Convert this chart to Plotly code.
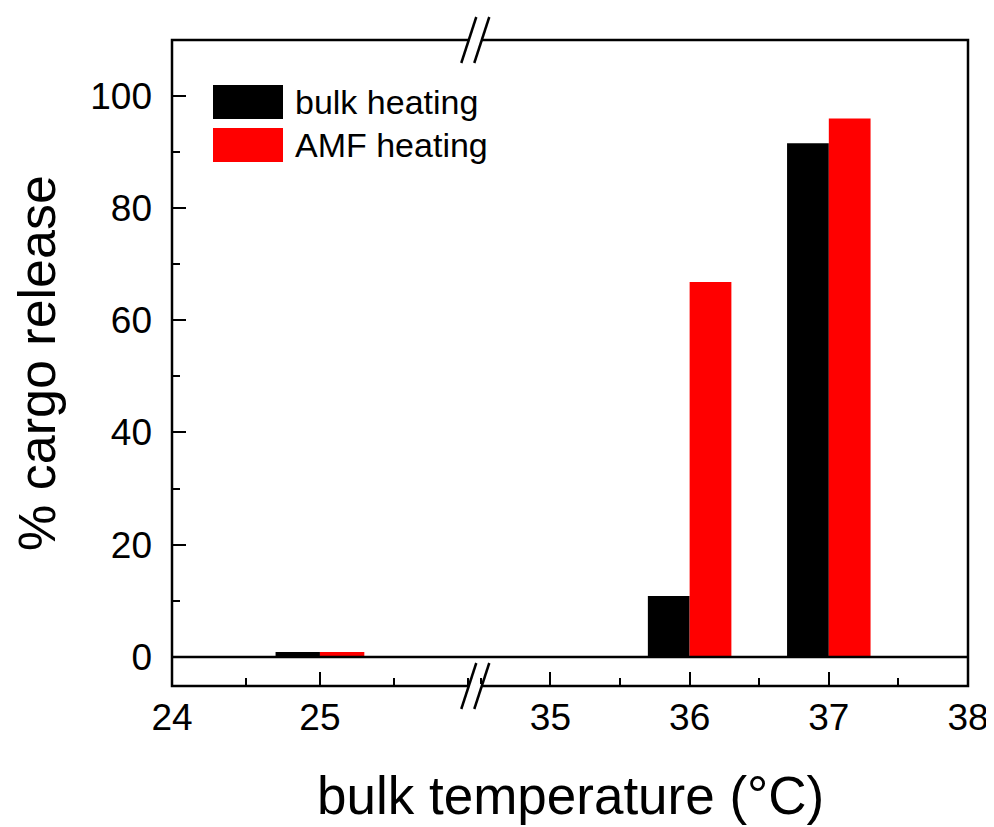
import plotly.graph_objects as go

# Data
temps = [25, 36, 37]
bulk_heating = [0.9, 10.9, 91.5]
amf_heating = [0.9, 66.8, 95.9]
series_names = ["bulk heating", "AMF heating"]
series_colors = ["#000000", "#ff0000"]
left_ticks = [24, 25]
right_ticks = [35, 36, 37, 38]
y_ticks = [0, 20, 40, 60, 80, 100]

FONT = "Arial, Liberation Sans, sans-serif"
BREAK = 0.381
BAR_W = 0.3

fig = go.Figure()

left_idx = [i for i, t in enumerate(temps) if t < 30]
right_idx = [i for i, t in enumerate(temps) if t >= 30]

for vals, name, color, off in [(bulk_heating, series_names[0], series_colors[0], -BAR_W),
                               (amf_heating, series_names[1], series_colors[1], 0.0)]:
    for idx, xa in [(left_idx, "x"), (right_idx, "x2")]:
        fig.add_trace(go.Bar(
            x=[temps[i] for i in idx], y=[vals[i] for i in idx],
            width=BAR_W, offset=off, xaxis=xa, yaxis="y",
            marker=dict(color=color, line=dict(width=0)),
            name=name, showlegend=False,
        ))

common_x = dict(
    ticks="inside", ticklen=14, tickwidth=2, tickcolor="black",
    showgrid=False, zeroline=False, showline=False,
    tickfont=dict(family=FONT, size=37, color="black"),
    minor=dict(ticks="inside", ticklen=8, tickwidth=2, tickcolor="black", dtick=0.5),
    ticklabelstandoff=6,
)

fig.update_layout(
    width=994, height=827,
    margin=dict(l=164, r=34, t=32, b=149),
    paper_bgcolor="white", plot_bgcolor="white",
    barmode="overlay",
    xaxis=dict(domain=[0, BREAK], range=[24, 26.05], tickmode="array",
               tickvals=left_ticks, ticktext=[str(t) for t in left_ticks],
               anchor="y", **common_x),
    xaxis2=dict(domain=[BREAK, 1], range=[34.46, 38], tickmode="array",
                tickvals=right_ticks, ticktext=[str(t) for t in right_ticks],
                anchor="y", **common_x),
    yaxis=dict(
        range=[-5.15, 109.9], tickmode="array", tickvals=y_ticks,
        ticks="inside", ticklen=14, tickwidth=2, tickcolor="black",
        minor=dict(ticks="inside", ticklen=8, tickwidth=2, tickcolor="black", dtick=10),
        showgrid=False, zeroline=False, showline=False,
        tickfont=dict(family=FONT, size=37, color="black"),
        ticklabelstandoff=19,
        title=dict(text="% cargo release", font=dict(family=FONT, size=52, color="black"),
                   standoff=22),
    ),
)

# x title
fig.add_annotation(text="bulk temperature (°C)", xref="paper", yref="paper",
                   x=0.5, y=-0.170, xanchor="center", yanchor="middle", showarrow=False,
                   font=dict(family=FONT, size=53, color="black"))

# frame
fig.add_shape(type="rect", xref="paper", yref="paper", x0=0, x1=1, y0=0, y1=1,
              line=dict(color="black", width=2.5), layer="above")
# zero line
fig.add_shape(type="line", xref="paper", yref="y", x0=0, x1=1, y0=0, y1=0,
              line=dict(color="black", width=2.5), layer="above")

# axis break marks
dx = 7.5 / 796
dy = 23 / 646
gap = 6.5 / 796
for yb in [0, 1]:
    fig.add_shape(type="line", xref="paper", yref="paper",
                  x0=BREAK - gap, x1=BREAK + gap, y0=yb, y1=yb,
                  line=dict(color="white", width=4), layer="above")
    for xc in [BREAK - gap, BREAK + gap]:
        fig.add_shape(type="line", xref="paper", yref="paper",
                      x0=xc - dx, x1=xc + dx, y0=yb - dy, y1=yb + dy,
                      line=dict(color="black", width=2.5), layer="above")

# legend (drawn manually for large swatches)
px_x = lambda p: (p - 172) / 796
px_y = lambda p: (686 - p) / 646
for (y0, y1), name, color in zip([(85, 119), (128, 162)], series_names, series_colors):
    fig.add_shape(type="rect", xref="paper", yref="paper",
                  x0=px_x(213), x1=px_x(283), y0=px_y(y1), y1=px_y(y0),
                  fillcolor=color, line=dict(width=0))
    fig.add_annotation(text=name, xref="paper", yref="paper",
                       x=px_x(293), y=px_y((y0 + y1) / 2), xanchor="left", yanchor="middle",
                       showarrow=False, font=dict(family=FONT, size=34, color="black"))

fig.write_html("out.html")
